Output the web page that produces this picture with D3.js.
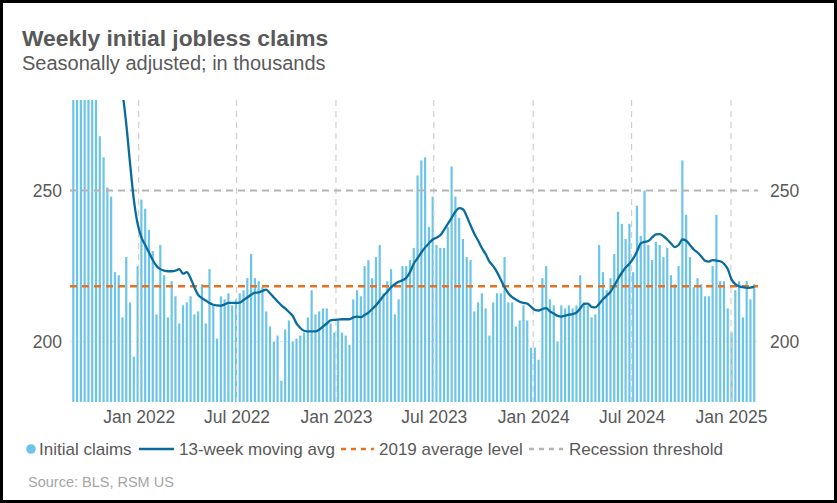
<!DOCTYPE html>
<html>
<head>
<meta charset="utf-8">
<script src="https://cdn.jsdelivr.net/npm/d3@7"></script>
<style>
  html, body { margin: 0; padding: 0; background: #fff; }
  svg { display: block; font-family: "Liberation Sans", Arial, sans-serif; }
</style>
</head>
<body>
<svg id="chart" width="837" height="503"></svg>
<script>
// ---------------- DATA ----------------
const firstWeek = "2021-09-02";          // first weekly observation
const claims = [
  340, 335, 351, 362, 326, 296, 290, 268, 261, 251,
  248, 223, 222, 208, 228, 213, 195, 225, 247, 244,
  237, 230, 209, 232, 222, 208, 220, 215, 206, 212,
  213, 215, 209, 210, 219, 206, 224, 212, 201, 215,
  214, 216, 212, 214, 216, 217, 221, 229, 221, 220,
  218, 210, 205, 200, 202, 187, 204, 207, 200, 201,
  202, 203, 208, 217, 209, 210, 211, 211, 206, 203,
  207, 203, 202, 199, 214, 217, 215, 225, 227, 221,
  228, 232, 216, 220, 224, 209, 214, 225, 225, 227,
  231, 255, 260, 261, 238, 248, 232, 231, 231, 238,
  258, 248, 241, 234, 228, 227, 210, 213, 216, 211,
  202, 213, 216, 216, 228, 213, 213, 205, 207, 212,
  207, 198, 198, 194, 221, 225, 214, 212, 200, 212,
  211, 212, 211, 212, 222, 213, 212, 208, 209, 232,
  223, 217, 221, 229, 243, 239, 234, 239, 223, 245,
  235, 250, 232, 227, 233, 232, 228, 231, 222, 219,
  225, 260, 242, 228, 218, 221, 219, 215, 215, 225,
  242, 220, 220, 211, 203, 217, 220, 208, 220, 214,
  219
];
const movingAvg = [
  352, 348, 345, 342, 338, 333, 327, 320, 313, 305,
  298, 291, 285, 282, 272, 259, 247, 239, 234.5, 232,
  229.5, 227, 225, 224, 223.5, 223.3, 223.3, 223.5, 224, 222.5,
  223, 221, 218, 215.5, 214.4, 213.6, 212.8, 212.2, 212, 211.9,
  212.3, 212.8, 212.8, 212.8, 212.9, 213.8, 214.6, 215.5, 216.2, 216.3,
  216.8, 217.2, 216, 214.6, 213.3, 212, 211, 209.8, 208.5, 206,
  204.5, 203.6, 203.4, 203.4, 203.4, 204, 205, 206, 207, 207.2,
  207.3, 207.4, 207.4, 207.4, 208, 208.3, 208.1, 208.8, 209.6, 210.8,
  212, 213.5, 215.2, 216.5, 218, 219, 219.8, 220.3, 221.1, 223,
  225.8, 227.6, 229.5, 231.2, 232.5, 233.8, 234.4, 235.2, 237, 239,
  241, 243, 244.2, 243.8, 241.5, 238.5, 235.7, 233.5, 231, 229,
  226.5, 225, 223, 220.5, 218, 216, 214.7, 213.9, 213.2, 212.8,
  212.6, 211.5, 210.5, 210.3, 210.8, 211.1, 210, 209.3, 208.5, 208.3,
  208.6, 208.9, 209.1, 209.6, 211, 212.5, 212.6, 211.5, 211.3, 212.5,
  214, 215.2, 216.5, 218.5, 220.8, 222.8, 224.5, 225.8, 227.5, 229.8,
  232.5, 233, 233.3, 234.5, 235.5, 235.6, 234.9, 233.8, 232.5, 231.3,
  232, 233.8, 233.4, 232, 230.5, 229.5, 228.2, 226.8, 226.5, 227,
  226.8, 226.6, 225.8, 224, 220.6, 219, 218.3, 218, 217.8, 217.9,
  218.1
];
const avg2019 = 218.3;
const recessionThreshold = 250;
const yTicks = [200, 250];
const xTickDates = ["2022-01-01", "2022-07-01", "2023-01-01", "2023-07-01", "2024-01-01", "2024-07-01", "2025-01-01"];
const legendItems = ["Initial claims", "13-week moving avg", "2019 average level", "Recession threshold"];

// ---------------- STYLE / LAYOUT ----------------
const C = {
  bar: "#6cc5e9", line: "#0a6c9c", orange: "#e8731e", grayDash: "#b4b4b4",
  grid: "#cfcfcf", text: "#595959", source: "#a6a6a6"
};
const plot = { left: 70, right: 758, top: 100, bottom: 402 };

const parse = d3.utcParse("%Y-%m-%d");
const start = parse(firstWeek);
const dates = claims.map((_, i) => d3.utcDay.offset(start, 7 * i));

const svg = d3.select("#chart");

const x = d3.scaleUtc()
  .domain([parse("2022-01-01"), parse("2025-01-01")])
  .range([138.7, 731]);
const y = d3.scaleLinear().domain([180, 280]).range([plot.bottom, plot.top]);

// border
svg.append("rect").attr("x", 1.5).attr("y", 1.5).attr("width", 834).attr("height", 500)
  .attr("fill", "#fff").attr("stroke", "#000").attr("stroke-width", 3);

// title
svg.append("text").attr("x", 22).attr("y", 46)
  .attr("font-size", 22.8).attr("font-weight", "bold").attr("fill", C.text)
  .text("Weekly initial jobless claims");
svg.append("text").attr("x", 22).attr("y", 70)
  .attr("font-size", 20).attr("fill", C.text)
  .text("Seasonally adjusted; in thousands");

svg.append("defs").append("clipPath").attr("id", "clip")
  .append("rect").attr("x", plot.left).attr("y", plot.top)
  .attr("width", plot.right - plot.left).attr("height", plot.bottom - plot.top);

// faint gridline at 200
svg.append("line")
  .attr("x1", plot.left).attr("x2", plot.right)
  .attr("y1", y(200)).attr("y2", y(200))
  .attr("stroke", "#e4e4e4").attr("stroke-width", 1).attr("stroke-dasharray", "3,3");

// bars
svg.append("g").attr("clip-path", "url(#clip)")
  .selectAll("rect").data(claims).join("rect")
  .attr("x", (d, i) => x(dates[i]) - 1.1)
  .attr("width", 2.2)
  .attr("y", d => y(d))
  .attr("height", d => plot.bottom - y(d))
  .attr("fill", C.bar);

// vertical gridlines
const tickDates = xTickDates.map(parse);
svg.append("g").selectAll("line").data(tickDates).join("line")
  .attr("x1", d => x(d)).attr("x2", d => x(d))
  .attr("y1", plot.top).attr("y2", plot.bottom)
  .attr("stroke", C.grid).attr("stroke-width", 1.2).attr("stroke-dasharray", "6,5");

// recession threshold line
svg.append("line")
  .attr("x1", plot.left).attr("x2", plot.right)
  .attr("y1", y(recessionThreshold)).attr("y2", y(recessionThreshold))
  .attr("stroke", C.grayDash).attr("stroke-width", 2).attr("stroke-dasharray", "7,5");

// 2019 average line
svg.append("line")
  .attr("x1", plot.left).attr("x2", plot.right)
  .attr("y1", y(avg2019)).attr("y2", y(avg2019))
  .attr("stroke", C.orange).attr("stroke-width", 2.5).attr("stroke-dasharray", "7,5");

// moving average
const lineGen = d3.line().x((d, i) => x(dates[i])).y(d => y(d)).curve(d3.curveMonotoneX);
svg.append("path").attr("clip-path", "url(#clip)")
  .datum(movingAvg)
  .attr("d", lineGen)
  .attr("fill", "none").attr("stroke", C.line).attr("stroke-width", 2.3)
  .attr("stroke-linejoin", "round");

// axes
const xAxis = svg.append("g").attr("transform", `translate(0,${plot.bottom})`)
  .call(d3.axisBottom(x).tickValues(tickDates).tickFormat(d3.utcFormat("%b %Y")).tickSize(0).tickPadding(9));
const yLeft = svg.append("g").attr("transform", `translate(64,0)`)
  .call(d3.axisLeft(y).tickValues(yTicks).tickSize(0).tickPadding(2));
const yRight = svg.append("g").attr("transform", `translate(768,0)`)
  .call(d3.axisRight(y).tickValues(yTicks).tickSize(0).tickPadding(2));
[xAxis, yLeft, yRight].forEach(g => {
  g.select(".domain").remove();
  g.selectAll("text").attr("font-size", 17.5).attr("fill", C.text)
    .attr("font-family", "Liberation Sans, Arial, sans-serif");
});

// legend
const lg = svg.append("g").attr("font-size", 17).attr("fill", C.text);
const ly = 455;
lg.append("circle").attr("cx", 31).attr("cy", ly - 6).attr("r", 4.8).attr("fill", C.bar);
lg.append("text").attr("x", 39).attr("y", ly).attr("fill", C.text).text(legendItems[0]);
lg.append("line").attr("x1", 139).attr("x2", 174).attr("y1", ly - 6).attr("y2", ly - 6)
  .attr("stroke", C.line).attr("stroke-width", 2.5);
lg.append("text").attr("x", 179).attr("y", ly).attr("fill", C.text).text(legendItems[1]);
lg.append("line").attr("x1", 341).attr("x2", 374).attr("y1", ly - 6).attr("y2", ly - 6)
  .attr("stroke", C.orange).attr("stroke-width", 2.5).attr("stroke-dasharray", "5,5");
lg.append("text").attr("x", 379).attr("y", ly).attr("fill", C.text).text(legendItems[2]);
lg.append("line").attr("x1", 529).attr("x2", 563).attr("y1", ly - 6).attr("y2", ly - 6)
  .attr("stroke", C.grayDash).attr("stroke-width", 2.5).attr("stroke-dasharray", "5,5");
lg.append("text").attr("x", 569).attr("y", ly).attr("fill", C.text).text(legendItems[3]);

// source
svg.append("text").attr("x", 28).attr("y", 487).attr("font-size", 14.5)
  .attr("fill", C.source).text("Source: BLS, RSM US");
</script>
</body>
</html>
